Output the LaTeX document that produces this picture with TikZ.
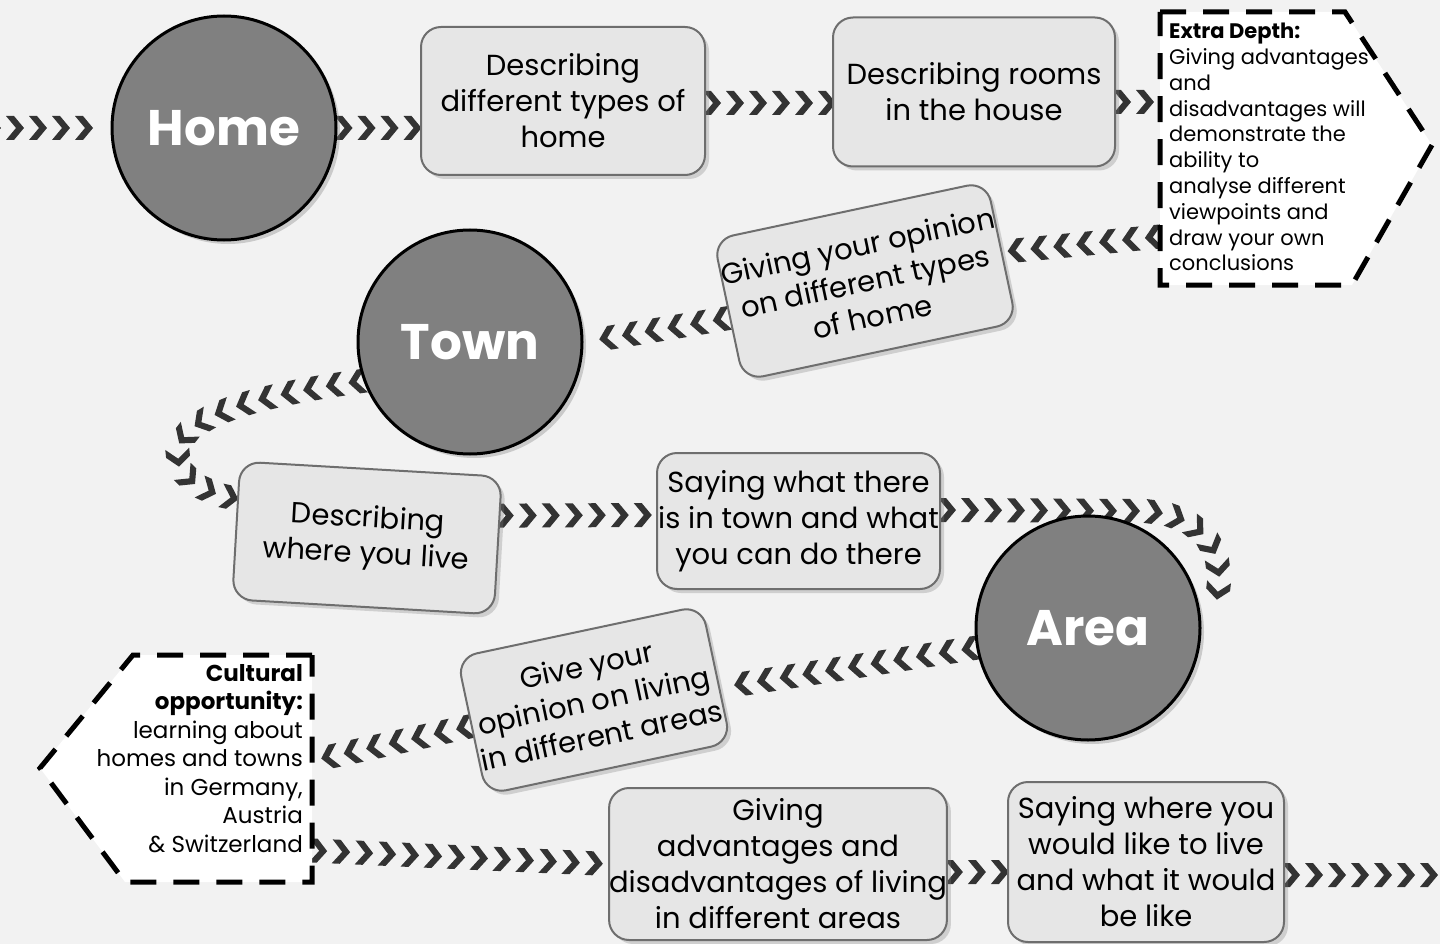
\documentclass[tikz,border=0pt]{standalone}
\usepackage{fontspec}
\setmainfont{Poppins}
\usetikzlibrary{decorations.markings,shadows,calc}
\definecolor{bgc}{HTML}{F2F2F2}
\definecolor{boxfill}{HTML}{E6E6E6}
\definecolor{boxline}{HTML}{6E6E6E}
\definecolor{circg}{HTML}{808080}
\definecolor{chevc}{HTML}{333333}
\pgfdeclarelayer{back}
\pgfdeclarelayer{chains}
\pgfsetlayers{back,chains,main}
\tikzset{
 chain/.style={decoration={markings, mark=between positions 6pt and -4pt step 23pt with {\fill[chevc] (-9pt,12pt) -- (-1pt,12pt) -- (9pt,0pt) -- (-1pt,-12pt) -- (-9pt,-12pt) -- (1pt,0pt) -- cycle;}}, postaction={decorate}},
 circ/.style={circle, draw=black, line width=3pt, fill=circg, minimum size=224pt, inner sep=0pt, text=white, font=\fontsize{50}{58}\selectfont\bfseries, drop shadow={shadow xshift=4pt, shadow yshift=-4pt, opacity=0.35}},
 box/.style={rounded corners=20pt, draw=boxline, line width=2pt, fill=boxfill, inner sep=0pt, align=center, font=\fontsize{29}{36}\selectfont, drop shadow={shadow xshift=4pt, shadow yshift=-4pt, opacity=0.3}},
 hexa/.style={draw=black, fill=white, line width=5pt, dash pattern=on 26pt off 17pt},
}
\begin{document}
\begin{tikzpicture}[x=1pt,y=-1pt]
\useasboundingbox (0,0) rectangle (1440,944);
\begin{pgfonlayer}{back}
\fill[bgc] (0,0) rectangle (1440,944);
\end{pgfonlayer}
% dashed callouts
\draw[hexa] (1160,12) -- (1345,12) -- (1432,145) -- (1352,285) -- (1160,285) -- cycle;
\draw[hexa] (312,655) -- (133,655) -- (40,768) -- (125,882) -- (312,882) -- cycle;
\node[minimum width=190pt, minimum height=273pt, inner sep=0pt] (xd) at (1255,148.5) {};
\node[minimum width=187pt, minimum height=227pt, inner sep=0pt] (cu) at (218.5,768.5) {};
\node[anchor=north west, align=left, inner sep=0pt, font=\fontsize{21}{25.8}\selectfont] (xdt) at (1169,23)
 {\textbf{Extra Depth:}\\Giving advantages\\and\\disadvantages will\\demonstrate the\\ability to\\analyse different\\viewpoints and\\draw your own\\conclusions};
\node[anchor=north east, align=right, inner sep=0pt, font=\fontsize{23}{28.5}\selectfont] (cut) at (303,664)
 {\textbf{Cultural}\\\textbf{opportunity:}\\learning about\\homes and towns\\in Germany,\\Austria\\\& Switzerland};
% circles
\node[circ] (home) at (224,128) {Home};
\node[circ] (town) at (470,342) {Town};
\node[circ] (area) at (1088,628) {Area};
% boxes
\node[box, minimum width=284pt, minimum height=148pt] (b1) at (563,101) {Describing\\different types of\\home};
\node[box, minimum width=282pt, minimum height=149pt] (b2) at (974,92) {Describing rooms\\in the house};
\node[box, minimum width=269pt, minimum height=144pt, rotate=12] (b3) at (865,281) {Giving your opinion\\on different types\\of home};
\node[box, minimum width=262pt, minimum height=138pt, rotate=-3.3] (b4) at (367,538) {Describing\\where you live};
\node[box, minimum width=283pt, minimum height=136pt] (b5) at (798.5,521) {Saying what there\\is in town and what\\you can do there};
\node[box, minimum width=250pt, minimum height=140pt, rotate=12] (b6) at (594,700) {Give your\\opinion on living\\in different areas};
\node[box, minimum width=334pt, minimum height=152pt] (b7) at (778,864) {Giving\\advantages and\\disadvantages of living\\in different areas};
\node[box, minimum width=276pt, minimum height=160pt] (b8) at (1146,862) {Saying where you\\would like to live\\and what it would\\be like};
% chevron chains
\begin{pgfonlayer}{chains}
\coordinate (lstart) at (-14,128);
\coordinate (ain) at (1216,602);
\coordinate (rend) at (1460,875);
\path[chain] (lstart) -- (home.west);
\path[chain] (home.east) -- (home.east -| b1.west);
\path[chain] ($(b1.east)+(0,2)$) -- ($(b1.east -| b2.west)+(0,2)$);
\path[chain] ($(b2.east)+(0,10)$) -- ($(b2.east -| xd.west)+(0,10)$);
\path[chain] ($(xd.west)+(0,88)$) -- (b3.east);
\path[chain] ($(b3.west)+(0,8)$) -- (town.east);
\path[chain] (town.200) .. controls (260,395) and (178,415) .. (178,455) .. controls (178,475) and (200,492) .. ($(b4.west)+(0,-32)$);
\path[chain] ($(b4.east)+(0,-30)$) -- ($(b5.west)+(0,-6)$);
\path[chain] ($(b5.east)+(0,-11)$) -- (1140,511) .. controls (1200,513) and (1228,548) .. (ain);
\path[chain] (area.190) -- ($(b6.east)+(0,14)$);
\path[chain] (b6.west) -- ($(cu.east)+(0,-8)$);
\path[chain] ($(cu.east)+(0,82)$) -- (b7.west);
\path[chain] ($(b7.east)+(0,8)$) -- ($(b8.west)+(0,10)$);
\path[chain] ($(b8.east)+(0,13)$) -- (rend);
\end{pgfonlayer}
\end{tikzpicture}
\end{document}
